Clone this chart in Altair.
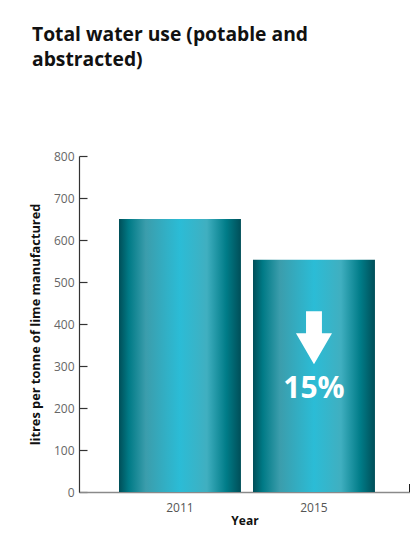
import altair as alt
import pandas as pd

years = ["2011", "2015"]
water_use = [650, 553]

arrow_year = ["2015"]
arrow_value = [367]
label_value = [246]
label_text = ["15%"]

y_ticks = [0, 100, 200, 300, 400, 500, 600, 700, 800]

bars_df = pd.DataFrame({"Year": years, "Use": water_use})
ann_df = pd.DataFrame({"Year": arrow_year, "ArrowY": arrow_value,
                       "LabelY": label_value, "Label": label_text})

FONT = "Open Sans"
W = 331
H = 336

grad = alt.Gradient(
    gradient="linear",
    x1=0, x2=1, y1=0, y2=0,
    stops=[
        alt.GradientStop(color="#004e58", offset=0.0),
        alt.GradientStop(color="#007a86", offset=0.08),
        alt.GradientStop(color="#3b9dac", offset=0.22),
        alt.GradientStop(color="#2bbcd6", offset=0.5),
        alt.GradientStop(color="#40afc0", offset=0.72),
        alt.GradientStop(color="#007c88", offset=0.88),
        alt.GradientStop(color="#004e58", offset=1.0),
    ],
)

x_enc = alt.X(
    "Year:N",
    sort=years,
    scale=alt.Scale(paddingInner=0.09, paddingOuter=0.28, align=0.533),
    axis=alt.Axis(
        title="Year",
        titleFont=FONT, titleFontSize=12, titleFontWeight="bold", titleColor="#111111",
        titlePadding=2,
        labelFont=FONT, labelFontSize=12, labelColor="#555555", labelPadding=10,
        labelAngle=0,
        ticks=False, tickSize=0,
        domainColor="#8a8a8a", domainWidth=1.6,
    ),
)

y_enc = alt.Y(
    "Use:Q",
    scale=alt.Scale(domain=[0, 800], nice=False),
    axis=alt.Axis(
        title="litres per tonne of lime manufactured",
        titleFont=FONT, titleFontSize=12.8, titleFontWeight="bold", titleColor="#111111",
        titlePadding=11,
        labelFont=FONT, labelFontSize=12, labelColor="#666666", labelPadding=5,
        values=y_ticks,
        ticks=False, tickSize=0,
        domainColor="#333333", domainWidth=1.2,
        grid=True, gridColor="#333333", gridWidth=1.2, gridDash=[8, 2000],
    ),
)

bars = alt.Chart(bars_df).mark_bar(color=grad).encode(x=x_enc, y=y_enc)

arrow_path = "M-0.3,-1 L0.3,-1 L0.3,-0.17 L0.68,-0.17 L0,1 L-0.68,-0.17 L-0.3,-0.17 Z"

arrow = alt.Chart(ann_df).mark_point(
    shape=arrow_path, filled=True, color="white", opacity=1, size=2809, strokeWidth=0
).encode(x=alt.X("Year:N", sort=years), y=alt.Y("ArrowY:Q"))

label = alt.Chart(ann_df).mark_text(
    font=FONT, fontSize=30, fontWeight="bold", color="white", baseline="middle", align="center"
).encode(x=alt.X("Year:N", sort=years), y=alt.Y("LabelY:Q"), text="Label:N")

end_tick = alt.Chart(bars_df).mark_rule(color="#111111", strokeWidth=1.5).encode(
    x=alt.value(W), y=alt.value(H - 8), y2=alt.value(H)
)

chart = alt.layer(bars, arrow, label, end_tick).properties(
    width=W,
    height=H,
    padding={"left": 71, "top": 148, "right": 0, "bottom": 50},
    autosize=alt.AutoSizeParams(type="none"),
    background="white",
    title=alt.TitleParams(
        text=["Total water use (potable and", "abstracted)"],
        font=FONT, fontSize=19.3, fontWeight="bold", color="#111111",
        anchor="start", frame="group", dx=-47, offset=80, lineHeight=25,
    ),
).configure_view(stroke=None)

chart.save("out.html", embed_options={"renderer": "svg", "actions": False})
